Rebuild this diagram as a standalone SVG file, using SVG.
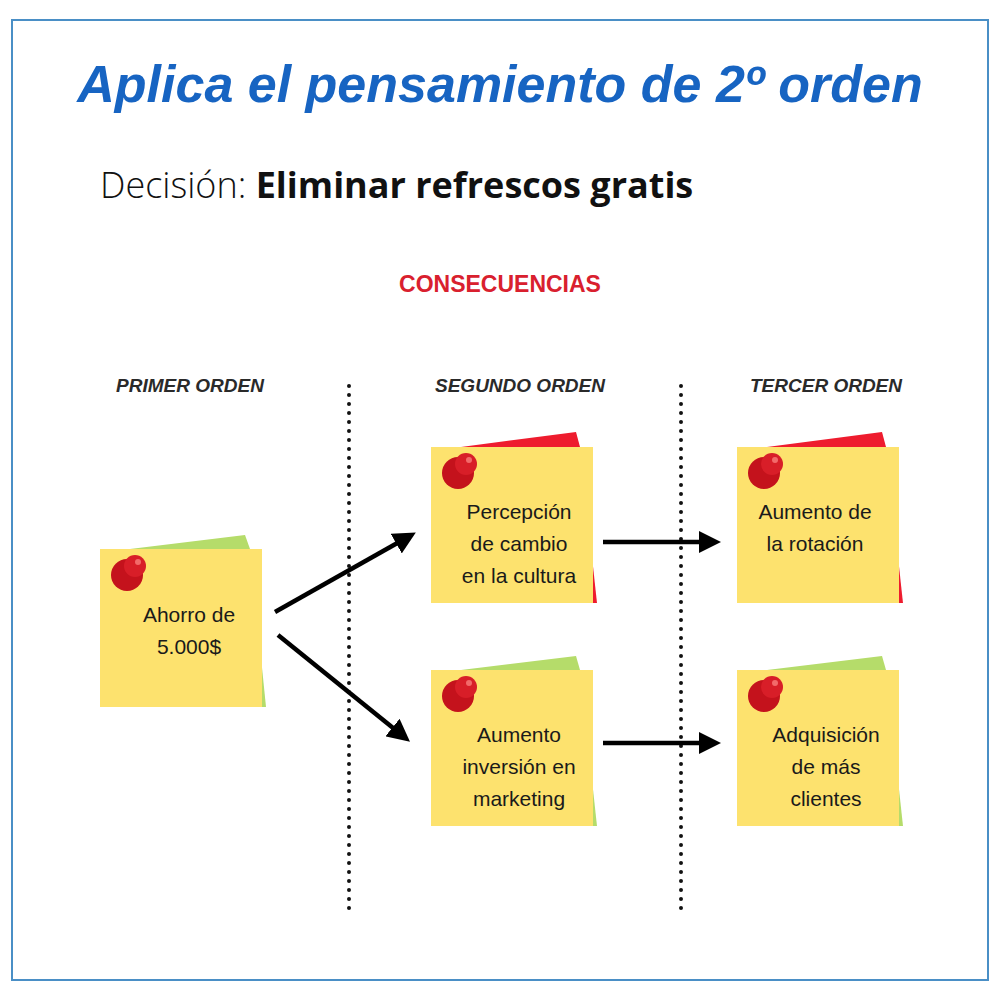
<svg xmlns="http://www.w3.org/2000/svg" width="1000" height="1000" viewBox="0 0 1000 1000">
<style>
.note{fill:#fde26e}
.g{fill:#b5dc6a}.r{fill:#ee1c2e}
.nt{font-family:"Liberation Sans",sans-serif;font-size:21px;fill:#1a1a1a;text-anchor:middle}
.hd{font-family:"Liberation Sans",sans-serif;font-size:19px;font-weight:bold;font-style:italic;fill:#2a2a2a;text-anchor:middle}
.dot{stroke:#111;stroke-width:4;stroke-linecap:round;stroke-dasharray:0 9}
.arr{stroke:#000;stroke-width:4.5;fill:none;marker-end:url(#ah)}
</style>
<defs>
<marker id="ah" markerWidth="5" markerHeight="5" refX="3" refY="2.5" orient="auto"><path d="M0,0 L5,2.5 L0,5 z" fill="#000"/></marker>
<g id="pin"><circle cx="0" cy="5" r="16" fill="#c4121c"/><circle cx="8" cy="-4" r="11" fill="#d81e28"/><circle cx="11" cy="-8" r="3" fill="#f26a6a"/></g>
</defs>
<rect width="1000" height="1000" fill="#fff"/>
<rect x="12" y="20" width="976" height="960" fill="none" stroke="#4a8fc6" stroke-width="2"/>
<text x="500" y="102" text-anchor="middle" font-family="Liberation Sans,sans-serif" font-size="52" font-weight="bold" font-style="italic" fill="#1764c2">Aplica el pensamiento de 2º orden</text>
<text x="100" y="198" font-family="Open Sans,sans-serif" font-size="36" fill="#111"><tspan font-weight="300">Decisión: </tspan><tspan font-weight="bold">Eliminar refrescos gratis</tspan></text>
<text x="500" y="292" text-anchor="middle" font-family="Liberation Sans,sans-serif" font-size="23" font-weight="bold" fill="#d9202e">CONSECUENCIAS</text>
<text class="hd" x="190" y="392">PRIMER ORDEN</text>
<text class="hd" x="520" y="392">SEGUNDO ORDEN</text>
<text class="hd" x="826" y="392">TERCER ORDEN</text>
<g id="dividers"><line class="dot" x1="349" y1="386" x2="349" y2="915"/><line class="dot" x1="681" y1="386" x2="681" y2="915"/></g>
<g id="n1"><path class="g" d="M130,549 L245,535 L250,549 L266,707 L140,707z"/><rect class="note" x="100" y="549" width="162" height="158"/><use href="#pin" x="127" y="570"/><text class="nt" x="189" y="622">Ahorro de</text><text class="nt" x="189" y="654">5.000$</text></g>
<g id="n2"><path class="r" d="M461,447 L576,432 L580,447 L597,603 L470,603z"/><rect class="note" x="431" y="447" width="162" height="156"/><use href="#pin" x="458" y="468"/><text class="nt" x="519" y="519">Percepción</text><text class="nt" x="519" y="551">de cambio</text><text class="nt" x="519" y="583">en la cultura</text></g>
<g id="n3"><path class="r" d="M767,447 L882,432 L886,447 L903,603 L776,603z"/><rect class="note" x="737" y="447" width="162" height="156"/><use href="#pin" x="764" y="468"/><text class="nt" x="815" y="519">Aumento de</text><text class="nt" x="815" y="551">la rotación</text></g>
<g id="n4"><path class="g" d="M461,670 L576,656 L580,670 L597,826 L470,826z"/><rect class="note" x="431" y="670" width="162" height="156"/><use href="#pin" x="458" y="691"/><text class="nt" x="519" y="742">Aumento</text><text class="nt" x="519" y="774">inversión en</text><text class="nt" x="519" y="806">marketing</text></g>
<g id="n5"><path class="g" d="M767,670 L882,656 L886,670 L903,826 L776,826z"/><rect class="note" x="737" y="670" width="162" height="156"/><use href="#pin" x="764" y="691"/><text class="nt" x="826" y="742">Adquisición</text><text class="nt" x="826" y="774">de más</text><text class="nt" x="826" y="806">clientes</text></g>
<g id="connectors">
<line class="arr" x1="275" y1="612" x2="408" y2="537"/>
<line class="arr" x1="278" y1="635" x2="403" y2="736"/>
<line class="arr" x1="603" y1="542" x2="712" y2="542"/>
<line class="arr" x1="603" y1="743" x2="712" y2="743"/>
</g>
</svg>
